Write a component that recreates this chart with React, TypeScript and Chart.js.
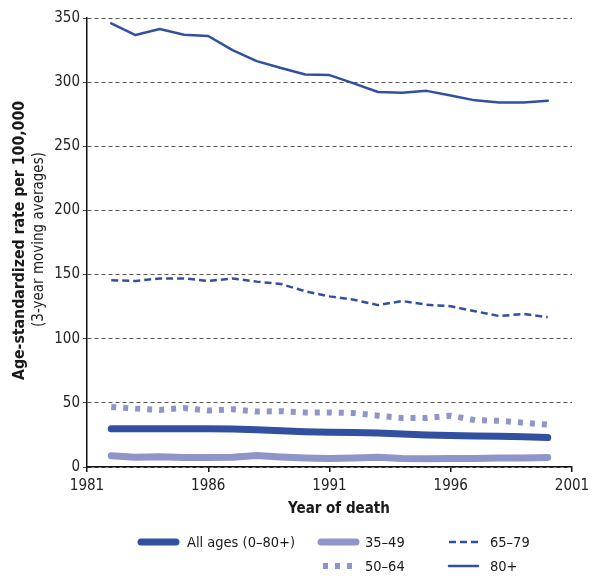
import React, { useEffect, useRef } from "react";
import { Chart, registerables } from "chart.js";

Chart.register(...registerables);

const years = [1982, 1983, 1984, 1985, 1986, 1987, 1988, 1989, 1990, 1991, 1992, 1993, 1994, 1995, 1996, 1997, 1998, 1999, 2000];
const allAges = [29.8, 29.8, 29.8, 29.8, 29.8, 29.7, 29.0, 28.2, 27.5, 27.0, 26.8, 26.5, 25.8, 25.0, 24.5, 24.2, 23.9, 23.5, 22.9];
const age35_49 = [8.8, 7.6, 8.0, 7.5, 7.5, 7.6, 9.0, 7.8, 7.0, 6.6, 7.0, 7.6, 6.6, 6.5, 6.6, 6.6, 7.0, 7.0, 7.5];
const age50_64 = [46.8, 45.5, 44.5, 46.0, 44.0, 45.0, 43.2, 43.5, 42.5, 42.5, 42.0, 40.0, 38.2, 38.2, 40.0, 36.5, 36.0, 34.5, 33.0];
const age65_79 = [145.6, 145.0, 147.0, 147.0, 145.0, 147.0, 144.5, 142.6, 137.0, 133.0, 130.4, 126.2, 129.4, 126.5, 125.3, 121.4, 117.7, 119.3, 116.7];
const age80plus = [345.8, 336.7, 341.4, 337.0, 336.0, 325.0, 316.4, 311.0, 306.0, 305.5, 299.0, 292.3, 291.7, 293.2, 289.6, 285.8, 284.2, 284.2, 285.5];
const xTicks = [1981, 1986, 1991, 1996, 2001];

const DARK = "#3150a0";
const LIGHT = "#8f95c9";
const FONT = "'DejaVu Sans Condensed', 'Liberation Sans', sans-serif";

const seriesLabels = ["All ages (0\u201380+)", "35\u201349", "50\u201364", "65\u201379", "80+"];

export default function App() {
  const ref = useRef<HTMLCanvasElement | null>(null);

  useEffect(() => {
    if (!ref.current) return;
    const mk = (arr: number[]) => years.map((y, i) => ({ x: y, y: arr[i] }));

    const styles = [
      { color: DARK, width: 7, dash: [] as number[], cap: "round" },
      { color: LIGHT, width: 7, dash: [] as number[], cap: "round" },
      { color: LIGHT, width: 6, dash: [5, 7], cap: "butt" },
      { color: DARK, width: 2.5, dash: [7, 4], cap: "butt" },
      { color: DARK, width: 2.5, dash: [] as number[], cap: "round" },
    ];
    const arrays = [allAges, age35_49, age50_64, age65_79, age80plus];

    const titlesAndLegend = {
      id: "titlesAndLegend",
      afterDraw(chart: any) {
        const ctx = chart.ctx as CanvasRenderingContext2D;
        const ca = chart.chartArea;
        ctx.save();
        const cy = (ca.top + ca.bottom) / 2;
        ctx.fillStyle = "#1a1a1a";
        ctx.textAlign = "center";
        ctx.textBaseline = "middle";
        ctx.save();
        ctx.translate(20, cy - 2);
        ctx.rotate(-Math.PI / 2);
        ctx.font = `bold 15.7px ${FONT}`;
        ctx.fillText("Age-standardized rate per 100,000", 0, 0);
        ctx.restore();
        ctx.save();
        ctx.translate(39, cy - 3);
        ctx.rotate(-Math.PI / 2);
        ctx.font = `15px ${FONT}`;
        ctx.fillText("(3-year moving averages)", 0, 0);
        ctx.restore();
        ctx.font = `bold 15px ${FONT}`;
        ctx.fillText("Year of death", 339, 509);

        const pos = [
          { x1: 141, x2: 176, tx: 187, y: 542 },
          { x1: 321, x2: 356, tx: 365, y: 542 },
          { x1: 323, x2: 356, tx: 365, y: 566 },
          { x1: 449, x2: 478, tx: 490, y: 542 },
          { x1: 449, x2: 478, tx: 490, y: 566 },
        ];
        pos.forEach((p, i) => {
          const s = styles[i];
          ctx.beginPath();
          ctx.strokeStyle = s.color;
          ctx.lineWidth = s.width;
          ctx.lineCap = s.cap as CanvasLineCap;
          ctx.setLineDash(s.dash);
          ctx.moveTo(p.x1, p.y);
          ctx.lineTo(p.x2, p.y);
          ctx.stroke();
          ctx.setLineDash([]);
          ctx.fillStyle = "#1a1a1a";
          ctx.font = `14.5px ${FONT}`;
          ctx.textAlign = "left";
          ctx.textBaseline = "middle";
          ctx.fillText(seriesLabels[i], p.tx, p.y + 1);
        });
        ctx.restore();
      },
    };

    const chart = new Chart(ref.current, {
      type: "line",
      data: {
        datasets: arrays.map((arr, i) => ({
          label: seriesLabels[i],
          data: mk(arr),
          borderColor: styles[i].color,
          borderWidth: styles[i].width,
          borderDash: styles[i].dash,
          borderCapStyle: styles[i].cap as CanvasLineCap,
          borderJoinStyle: "round" as CanvasLineJoin,
          pointRadius: 0,
          tension: 0,
          fill: false,
        })),
      },
      options: {
        animation: false,
        responsive: false,
        devicePixelRatio: 1,
        layout: { padding: { left: 0, right: 33, top: 18, bottom: 79 } },
        plugins: { legend: { display: false }, tooltip: { enabled: false } },
        scales: {
          x: {
            type: "linear",
            min: 1981,
            max: 2001,
            afterBuildTicks: (scale: any) => {
              scale.ticks = xTicks.map((v) => ({ value: v }));
            },
            afterFit: (scale: any) => {
              scale.height = 30;
            },
            border: { display: true, color: "#111", width: 1.5 },
            grid: { drawOnChartArea: false, drawTicks: true, tickLength: 5, color: "#111", lineWidth: 1.5 },
            ticks: {
              color: "#222",
              font: { family: FONT, size: 15 },
              padding: 5,
              maxRotation: 0,
              autoSkip: false,
              callback: (v: any) => String(v),
            },
          },
          y: {
            min: 0,
            max: 350,
            afterFit: (scale: any) => {
              scale.width = 87;
            },
            border: { display: true, color: "#111", width: 1.5, dash: [4, 3] },
            grid: { color: "#555", lineWidth: 1, tickLength: 4 },
            ticks: {
              stepSize: 50,
              color: "#222",
              font: { family: FONT, size: 15 },
              padding: 3,
            },
          },
        },
      },
      plugins: [titlesAndLegend],
    } as any);
    return () => chart.destroy();
  }, []);

  return (
    <div style={{ position: "fixed", left: 0, top: 0, width: 605, height: 576, background: "#fff" }}>
      <canvas ref={ref} width={605} height={576} />
    </div>
  );
}
